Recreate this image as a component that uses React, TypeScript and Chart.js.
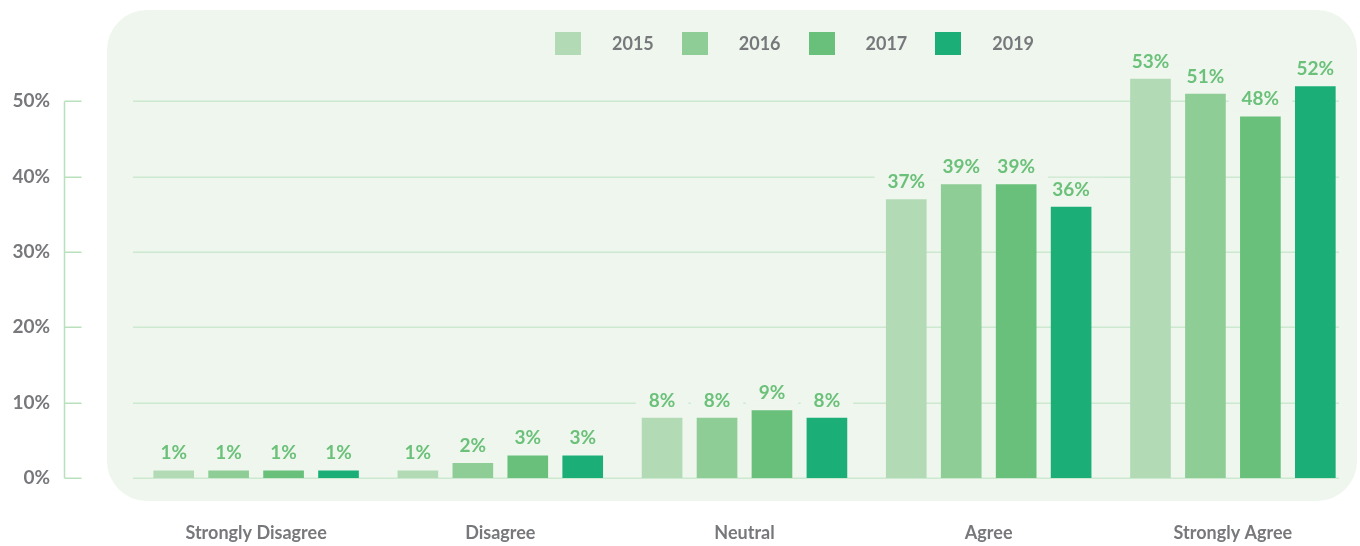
import React, { useEffect, useRef } from "react";
import { Chart, registerables } from "chart.js";

Chart.register(...registerables);

// Survey answers per year, in percent
const categories = ["Strongly Disagree", "Disagree", "Neutral", "Agree", "Strongly Agree"];
const years = ["2015", "2016", "2017", "2019"];
const values2015 = [1, 1, 8, 37, 53];
const values2016 = [1, 2, 8, 39, 51];
const values2017 = [1, 3, 9, 39, 48];
const values2019 = [1, 3, 8, 36, 52];
const yTickValues = [0, 10, 20, 30, 40, 50];

const seriesColors = ["#b2dbb5", "#8ecd96", "#68c07a", "#1baf77"];
const PANEL_BG = "#eff6ee";
const GRID_COLOR = "#cce8ce";
const LABEL_COLOR = "#6cc17a";
const TEXT_GREY = "#77787b";
const FONT = "Lato, 'Open Sans', sans-serif";

const seriesValues = [values2015, values2016, values2017, values2019];

// Gridlines, the bracket-style y axis and label backdrops, drawn under the bars
const backdropPlugin = {
  id: "backdrop",
  beforeDatasetsDraw(chart: any) {
    const { ctx, chartArea, scales } = chart;
    const y = scales.y;
    ctx.save();
    ctx.strokeStyle = GRID_COLOR;
    ctx.lineWidth = 1.5;
    for (const v of yTickValues) {
      const py = Math.round(y.getPixelForValue(v)) + 0.25;
      ctx.beginPath();
      ctx.moveTo(chartArea.left - 1, py);
      ctx.lineTo(chartArea.right - 16, py);
      ctx.stroke();
    }
    // axis bracket on the left
    const ax = chartArea.left - 69.5;
    const top = Math.round(y.getPixelForValue(yTickValues[yTickValues.length - 1])) + 0.25;
    const bottom = Math.round(y.getPixelForValue(0)) + 0.25;
    ctx.strokeStyle = "#b9e0bc";
    ctx.beginPath();
    ctx.moveTo(ax, top);
    ctx.lineTo(ax, bottom);
    ctx.stroke();
    for (const v of yTickValues) {
      const py = Math.round(y.getPixelForValue(v)) + 0.25;
      ctx.beginPath();
      ctx.moveTo(ax, py);
      ctx.lineTo(ax + 17, py);
      ctx.stroke();
    }
    // backdrops behind value labels so gridlines do not cross them
    ctx.font = `bold 19px ${FONT}`;
    ctx.fillStyle = PANEL_BG;
    chart.data.datasets.forEach((ds: any, i: number) => {
      const meta = chart.getDatasetMeta(i);
      meta.data.forEach((bar: any, j: number) => {
        const text = `${Math.round(ds.data[j])}%`;
        const w = ctx.measureText(text).width;
        const base = bar.y - 11;
        ctx.fillRect(bar.x - w / 2 - 13, base - 18, w + 26, 24);
      });
    });
    ctx.restore();
  },
  afterDatasetsDraw(chart: any) {
    const { ctx } = chart;
    ctx.save();
    ctx.font = `bold 19px ${FONT}`;
    ctx.fillStyle = LABEL_COLOR;
    ctx.textAlign = "center";
    ctx.textBaseline = "alphabetic";
    chart.data.datasets.forEach((ds: any, i: number) => {
      const meta = chart.getDatasetMeta(i);
      meta.data.forEach((bar: any, j: number) => {
        ctx.fillText(`${Math.round(ds.data[j])}%`, bar.x, bar.y - 11);
      });
    });
    ctx.restore();
  },
};

export default function App() {
  const canvasRef = useRef<HTMLCanvasElement | null>(null);

  useEffect(() => {
    if (!canvasRef.current) return;
    const chart = new Chart(canvasRef.current, {
      type: "bar",
      data: {
        labels: categories,
        datasets: years.map((year, i) => ({
          label: year,
          data: seriesValues[i],
          backgroundColor: seriesColors[i],
          borderWidth: 0,
          categoryPercentage: 0.9,
          barPercentage: 0.74,
        })),
      },
      options: {
        responsive: false,
        maintainAspectRatio: false,
        animation: false,
        events: [],
        layout: { padding: { top: 26, right: 5, left: 0, bottom: 0 } },
        plugins: {
          legend: { display: false },
          tooltip: { enabled: false },
        },
        scales: {
          x: {
            grid: { display: false },
            border: { display: false },
            ticks: {
              color: TEXT_GREY,
              font: { family: FONT, size: 18, weight: "bold" },
              padding: 36,
              maxRotation: 0,
            },
            afterFit: (scale: any) => {
              scale.height = 68;
            },
          },
          y: {
            min: 0,
            max: 60,
            grid: { display: false },
            border: { display: false },
            ticks: {
              stepSize: 10,
              color: TEXT_GREY,
              font: { family: FONT, size: 19, weight: "bold" },
              padding: 76,
              callback: (v: any) => `${v}%`,
            },
            afterBuildTicks: (scale: any) => {
              scale.ticks = scale.ticks.filter((t: any) => yTickValues.includes(t.value));
            },
            afterFit: (scale: any) => {
              scale.width = 134;
              scale.paddingTop = 0;
              scale.paddingBottom = 0;
            },
          },
        },
      },
      plugins: [backdropPlugin],
    });
    return () => chart.destroy();
  }, []);

  return (
    <div style={{ position: "fixed", left: 0, top: 0, width: 1360, height: 546, background: "#ffffff" }}>
      <div
        style={{
          position: "absolute",
          left: 107,
          top: 10,
          width: 1250,
          height: 491,
          borderRadius: 40,
          background: PANEL_BG,
        }}
      />
      <canvas
        ref={canvasRef}
        width={1360}
        height={546}
        style={{ position: "absolute", left: 0, top: 0, width: 1360, height: 546 }}
      />
      <div
        style={{
          position: "absolute",
          left: 555,
          top: 32,
          display: "flex",
          alignItems: "center",
          fontFamily: FONT,
          fontWeight: 700,
          fontSize: 18,
          color: TEXT_GREY,
        }}
      >
        {years.map((year, i) => (
          <div key={year} style={{ display: "flex", alignItems: "center", marginRight: 28 }}>
            <span style={{ display: "inline-block", width: 26, height: 23, background: seriesColors[i], marginRight: 31 }} />
            <span style={{ lineHeight: "23px" }}>{year}</span>
          </div>
        ))}
      </div>
    </div>
  );
}
